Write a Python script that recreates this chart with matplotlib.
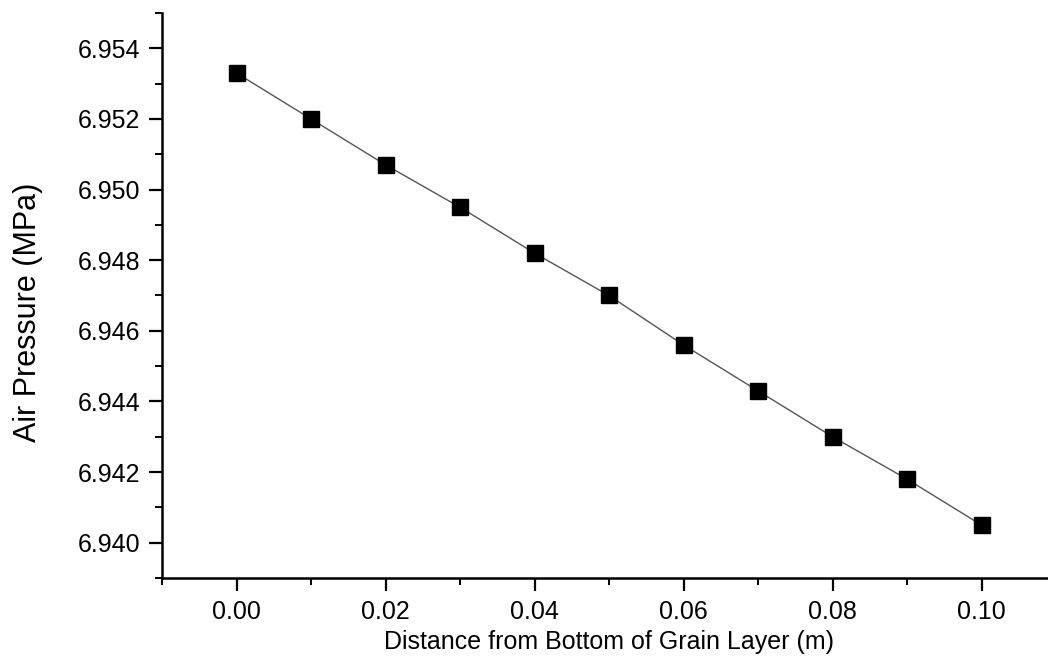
import numpy as np
import matplotlib
matplotlib.use('Agg')
import matplotlib.pyplot as plt
from matplotlib.ticker import MultipleLocator, FormatStrFormatter

plt.rcParams['font.family'] = ['Liberation Sans', 'DejaVu Sans']

distance = [0.00, 0.01, 0.02, 0.03, 0.04, 0.05, 0.06, 0.07, 0.08, 0.09, 0.10]
pressure = [6.9533, 6.9520, 6.9507, 6.9495, 6.9482, 6.9470,
            6.9456, 6.9443, 6.9430, 6.9418, 6.9405]

fig = plt.figure(figsize=(10.48, 6.59), dpi=100)
# axes run a little past the right edge like in the original
ax = fig.add_axes([162 / 1048, 1 - 578 / 659, (1056 - 162) / 1048, (578 - 13) / 659])

ax.plot(distance, pressure, color='#555555', linewidth=1.0,
        marker='s', markersize=11, markerfacecolor='black', markeredgecolor='black')

ax.set_xlim(-0.01, 0.11)
ax.set_ylim(6.939, 6.955)

ax.xaxis.set_major_locator(MultipleLocator(0.02))
ax.xaxis.set_minor_locator(MultipleLocator(0.01))
ax.yaxis.set_major_locator(MultipleLocator(0.002))
ax.yaxis.set_minor_locator(MultipleLocator(0.001))
ax.xaxis.set_major_formatter(FormatStrFormatter('%.2f'))
ax.yaxis.set_major_formatter(FormatStrFormatter('%.3f'))

for side in ['top', 'right']:
    ax.spines[side].set_visible(False)
for side in ['left', 'bottom']:
    ax.spines[side].set_linewidth(1.8)

ax.tick_params(which='major', direction='out', length=9.5, width=1.6, labelsize=18, pad=6)
ax.tick_params(which='minor', direction='out', length=5, width=1.4)

ax.set_xlabel('Distance from Bottom of Grain Layer (m)', fontsize=18, labelpad=5)
ax.set_ylabel('Air Pressure (MPa)', fontsize=22)
ax.yaxis.set_label_coords(-0.133, 0.47)

fig.savefig('out.png', dpi=100)
